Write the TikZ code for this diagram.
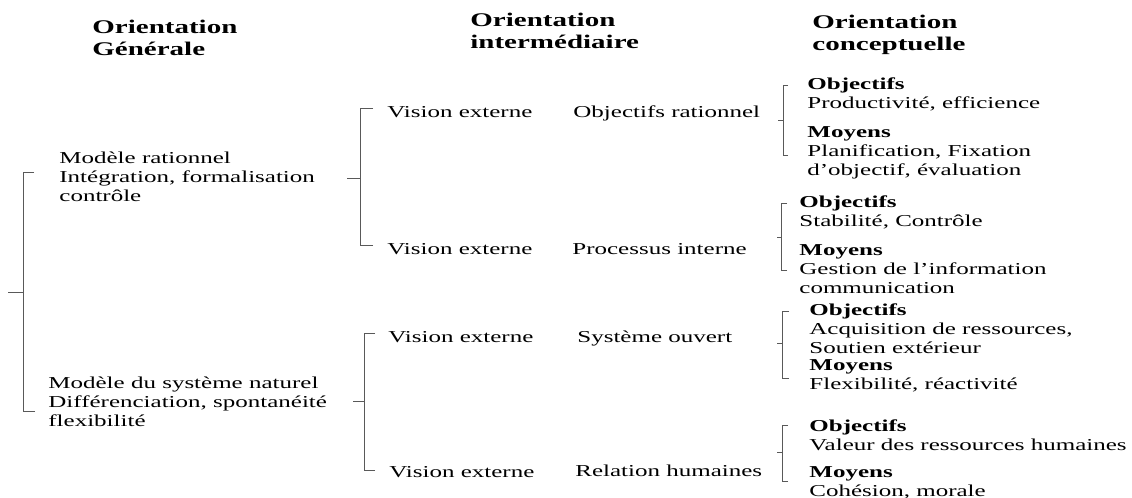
\documentclass[tikz,border=0pt]{standalone}
\usepackage{fontspec}
\setmainfont{Liberation Serif}
\newcommand\txtfont{\fontsize{12.5}{14.25}\selectfont}
\newcommand\hdfont{\fontsize{14.5}{16.5}\selectfont\bfseries}
\tikzset{
    hd/.style={
           anchor=north west,
           inner sep=0pt,
           align=left,
           font=\hdfont,
           transform shape,
           },
    txt/.style={
           anchor=north west,
           inner sep=0pt,
           align=left,
           font=\txtfont,
           transform shape,
           },
    lbl/.style={
           anchor=base west,
           inner sep=0pt,
           font=\txtfont,
           transform shape,
           },
    brk/.style={
           draw=black!65,
           line width=0.7pt,}
}
\begin{document}
\begin{tikzpicture}[x=0.5pt,y=-0.75pt,xscale=1.5]
\useasboundingbox (0,0) rectangle (1132,498);
% HEADERS
\node[hd] (GEN) at (92,17.6) {\strut Orientation\\Générale};
\node[hd] (INTER) at (470,10.6) {\strut Orientation\\intermédiaire};
\node[hd] (CONCEPT) at (812,12.6) {\strut Orientation\\conceptuelle};
% Position of the two models (RATIONNEL, NATUREL)
\node[txt] (RATIONNEL) at (59,149.7)
{\strut Modèle rationnel\\
Intégration, formalisation\\
contrôle};
\node[txt] (NATUREL) at (48,374.7)
{\strut Modèle du système naturel\\
Différenciation, spontanéité\\
flexibilité};
% Position of the visions
\node[lbl] (VIS1) at (387,118) {Vision externe};
\node[lbl] (VIS2) at (387,255) {Vision externe};
\node[lbl] (VIS3) at (388,343) {Vision externe};
\node[lbl] (VIS4) at (389,478) {Vision externe};
% Position of the intermediate orientations
\node[lbl] (OBJRAT) at (573,118) {Objectifs rationnel};
\node[lbl] (PROC) at (572,255) {Processus interne};
\node[lbl] (SYSOUV) at (577,343) {Système ouvert};
\node[lbl] (RELHUM) at (575,477) {Relation humaines};
% Position of the conceptual orientations
\node[txt] (OBJ1) at (807,75.7) {\strut\textbf{Objectifs}\\Productivité, efficience};
\node[txt] (MOY1) at (807,123.7) {\strut\textbf{Moyens}\\Planification, Fixation\\d’objectif, évaluation};
\node[txt] (OBJ2) at (799,193.7) {\strut\textbf{Objectifs}\\Stabilité, Contrôle};
\node[txt] (MOY2) at (799,241.7) {\strut\textbf{Moyens}\\Gestion de l’information\\communication};
\node[txt] (OBJ3) at (809,301.7) {\strut\textbf{Objectifs}\\Acquisition de ressources,\\Soutien extérieur};
\node[txt] (MOY3) at (809,356.7) {\strut\textbf{Moyens}\\Flexibilité, réactivité};
\node[txt] (OBJ4) at (809,417.7) {\strut\textbf{Objectifs}\\Valeur des ressources humaines};
\node[txt] (MOY4) at (809,463.7) {\strut\textbf{Moyens}\\Cohésion, morale};
% Bracket points
\coordinate (LSP) at (23,292);
\coordinate (RSP) at (360,178);
\coordinate (NSP) at (364,401);
\coordinate (C1SP) at (783,120);
\coordinate (C2SP) at (781,237);
\coordinate (C3SP) at (782,343);
\coordinate (C4SP) at (782,452);
% Draw brackets
\draw[brk] (LSP) -- ++(-15,0);
\draw[brk] (RATIONNEL.north west) ++(-25,22.3) -| (LSP);
\draw[brk] (NATUREL.north west) ++(-13,36.3) -| (LSP);
\draw[brk] (RSP) -- ++(-13,0);
\draw[brk] (VIS1.base west) ++(-14,-10) -| (RSP);
\draw[brk] (VIS2.base west) ++(-14,-10) -| (RSP);
\draw[brk] (NSP) -- ++(-11,0);
\draw[brk] (VIS3.base west) ++(-13,-10) -| (NSP);
\draw[brk] (VIS4.base west) ++(-14,-8) -| (NSP);
\draw[brk] (C1SP) -- ++(-5,0);
\draw[brk] (OBJ1.north west) ++(-19,9.3) -| (C1SP);
\draw[brk] (MOY1.north west) ++(-19,31.3) -| (C1SP);
\draw[brk] (C2SP) -- ++(-4,0);
\draw[brk] (OBJ2.north west) ++(-12,9.3) -| (C2SP);
\draw[brk] (MOY2.north west) ++(-12,28.3) -| (C2SP);
\draw[brk] (C3SP) -- ++(-5,0);
\draw[brk] (OBJ3.north west) ++(-20,9.3) -| (C3SP);
\draw[brk] (MOY3.north west) ++(-20,21.3) -| (C3SP);
\draw[brk] (C4SP) -- ++(-5,0);
\draw[brk] (OBJ4.north west) ++(-21,7.3) -| (C4SP);
\draw[brk] (MOY4.north west) ++(-21,17.3) -| (C4SP);
\end{tikzpicture}
\end{document}
